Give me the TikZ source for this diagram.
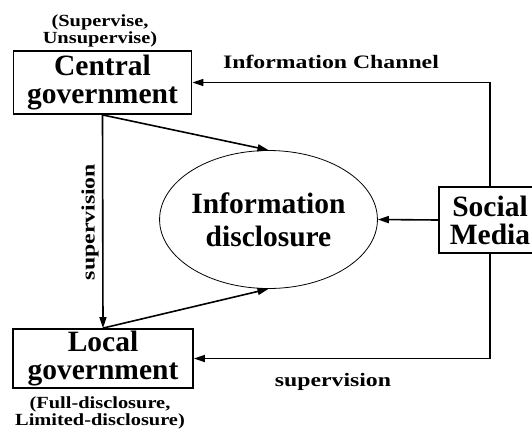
\documentclass[tikz,border=0pt]{standalone}
\usepackage{fontspec}
\setmainfont{Liberation Serif}
\newfontfamily\mainf[FakeStretch=1.0]{Liberation Serif}
\newfontfamily\labf[FakeStretch=1.25]{Liberation Serif}
\newfontfamily\smallf[FakeStretch=1.2]{Liberation Serif}
\usetikzlibrary{shapes.geometric,arrows.meta}
\begin{document}
\begin{tikzpicture}[x=1pt,y=-1pt,
  box/.style={draw,line width=1.8pt,inner sep=0pt,align=center,
    font=\mainf\bfseries\fontsize{29.5}{28}\selectfont},
  ell/.style={draw,ellipse,line width=0.8pt,inner sep=0pt,align=center,
    font=\mainf\bfseries\fontsize{29.5}{33}\selectfont},
  lab/.style={font=\labf\bfseries\fontsize{19}{20}\selectfont,inner sep=0pt},
  small/.style={font=\smallf\bfseries\fontsize{17}{17}\selectfont,inner sep=0pt,align=center},
  arr/.style={line width=1.6pt,-{Triangle[length=11pt,width=7pt]}}]
\useasboundingbox (0,0) rectangle (532,429);
\begin{scope}
\clip (0,0) rectangle (532,429);
\node[box,minimum width=178pt,minimum height=63pt] (cg) at (102.5,82.5) {Central\\government};
\node[box,minimum width=180pt,minimum height=59pt] (lg) at (103,358.5) {Local\\government};
\node[ell,minimum width=175pt,minimum height=138pt] (el) at (268.5,219.5) {Information\\disclosure};
\node[box,minimum width=102pt,minimum height=66pt] (sm) at (490,220) {Social\\Media};
\end{scope}
\node[small] (t1) at (100,31) {(Supervise,\\Unsupervise)};
\node[small] (t2) at (100,413) {(Full-disclosure,\\Limited-disclosure)};
\node[lab] (ic) at (331,62) {Information Channel};
\node[lab] (sv) at (333,382) {supervision};
\node[lab,rotate=90] (sv2) at (90,222) {supervision};
\draw[arr] (cg.south) -- (lg.north);
\draw[arr] (cg.south) -- (el.north);
\draw[arr] (lg.north) -- (el.south);
\draw[arr] (sm.west) -- (el.east);
\draw[arr] (sm.north) |- (cg.east);
\draw[arr] (sm.south) |- (lg.east);
\end{tikzpicture}
\end{document}
